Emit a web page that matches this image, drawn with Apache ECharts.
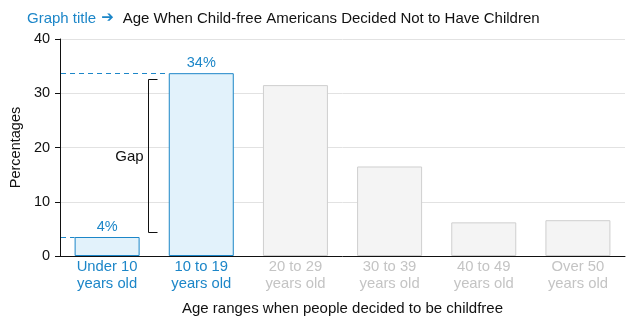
<!DOCTYPE html>
<html>
<head>
<meta charset="utf-8">
<script src="https://cdn.jsdelivr.net/npm/echarts@6/dist/echarts.min.js"></script>
<style>
  html, body { margin: 0; padding: 0; background: #fff; }
  #chart { width: 636px; height: 327px; }
</style>
</head>
<body>
<div id="chart"></div>
<script>
// Age at which child-free Americans decided not to have children (percent)
const categories = [
  'Under 10\nyears old',
  '10 to 19\nyears old',
  '20 to 29\nyears old',
  '30 to 39\nyears old',
  '40 to 49\nyears old',
  'Over 50\nyears old'
];
const percentages = [3.5, 33.7, 31.5, 16.5, 6.2, 6.6];
const highlighted = [true, true, false, false, false, false];
const yTicks = [0, 10, 20, 30, 40];

const FONT = '"Liberation Sans", Arial, sans-serif';
const BLUE = '#1c86c8';
const BLUE_FILL = '#e2f2fb';
const GREY_FILL = '#f4f4f4';
const GREY_LINE = '#cfcfcf';
const GREY_TEXT = '#c4c4c4';
const BAR_W = 65;

const chart = echarts.init(document.getElementById('chart'), null, { renderer: 'canvas' });

const barData = percentages.map((v, i) => ({
  value: v,
  itemStyle: highlighted[i]
    ? { color: BLUE_FILL, borderColor: BLUE, borderWidth: 1 }
    : { color: GREY_FILL, borderColor: GREY_LINE, borderWidth: 1 },
  label: { show: highlighted[i] }
}));

// Dashed reference lines from the axis to the two highlighted bars,
// plus the "Gap" bracket spanning their difference.
function renderGap(params, api) {
  const low = percentages[0];
  const high = percentages[1];
  const pLow = api.coord([0, low]);
  const pHigh = api.coord([1, high]);
  const axisX = params.coordSys.x + 1;
  const hy = Math.round(pHigh[1]) + 0.5;
  const ly = Math.round(pLow[1]) + 0.5;
  const bx = Math.round((pLow[0] + pHigh[0]) / 2 - 6.5) + 0.5;
  const top = Math.round(pHigh[1] + 5.5) + 0.5;
  const bottom = Math.round(pLow[1] - 5) + 0.5;
  const dash = { stroke: BLUE, lineWidth: 1, lineDash: [5, 4], fill: null };
  return {
    type: 'group',
    children: [
      { type: 'line', shape: { x1: axisX, y1: hy, x2: pHigh[0] - BAR_W / 2, y2: hy }, style: dash },
      { type: 'line', shape: { x1: axisX, y1: ly, x2: pLow[0] - BAR_W / 2, y2: ly }, style: dash },
      { type: 'polyline', shape: { points: [[bx + 9, top], [bx, top], [bx, bottom], [bx + 9, bottom]] },
        style: { stroke: '#111', lineWidth: 1, fill: null } },
      { type: 'text', x: bx - 19, y: (top + bottom) / 2 + 1,
        style: { text: 'Gap', font: '15px ' + FONT, fill: '#111', align: 'center', verticalAlign: 'middle' } }
    ]
  };
}

chart.setOption({
  animation: false,
  textStyle: { fontFamily: FONT },
  title: {
    left: 22,
    top: 6,
    text: '{a|Graph title}{arr|➔}{b|Age When Child-free Americans Decided Not to Have Children}',
    textStyle: {
      fontWeight: 'normal',
      rich: {
        a: { fontFamily: FONT, fontSize: 15, fontWeight: 'normal', color: BLUE },
        arr: { fontFamily: '"DejaVu Sans", sans-serif', fontSize: 15, fontWeight: 'normal', color: BLUE, padding: [0, 9, 0, 5] },
        b: { fontFamily: FONT, fontSize: 15, fontWeight: 'normal', color: '#111' }
      }
    }
  },
  grid: { left: 60, right: 11, top: 39, bottom: 71, containLabel: false },
  xAxis: {
    type: 'category',
    data: categories,
    name: 'Age ranges when people decided to be childfree',
    nameLocation: 'middle',
    nameGap: 45,
    nameTextStyle: { fontFamily: FONT, fontSize: 15, color: '#111' },
    axisLine: { lineStyle: { color: '#111', width: 1 } },
    axisTick: { show: false },
    axisLabel: {
      margin: 2,
      fontFamily: FONT,
      fontSize: 14.8,
      lineHeight: 17.6,
      color: (val, idx) => (highlighted[idx] ? BLUE : GREY_TEXT)
    }
  },
  yAxis: {
    type: 'value',
    min: yTicks[0],
    max: yTicks[yTicks.length - 1],
    interval: yTicks[1] - yTicks[0],
    name: 'Percentages',
    nameLocation: 'middle',
    nameGap: 37,
    nameTextStyle: { fontFamily: FONT, fontSize: 14.5, color: '#111' },
    axisLine: { show: true, lineStyle: { color: '#111', width: 1 } },
    axisTick: { show: true, length: 5, lineStyle: { color: '#111' } },
    axisLabel: { margin: 10, fontFamily: FONT, fontSize: 14.5, color: '#111' },
    splitLine: { lineStyle: { color: '#e2e2e2', width: 1 } }
  },
  series: [
    {
      type: 'bar',
      data: barData,
      barWidth: BAR_W,
      label: {
        position: 'top',
        distance: 3,
        fontFamily: FONT,
        fontSize: 14.5,
        color: BLUE,
        formatter: p => Math.round(p.value) + '%'
      }
    },
    {
      type: 'custom',
      silent: true,
      z: 5,
      clip: false,
      data: [[0, 0]],
      renderItem: renderGap
    }
  ]
});
</script>
</body>
</html>
